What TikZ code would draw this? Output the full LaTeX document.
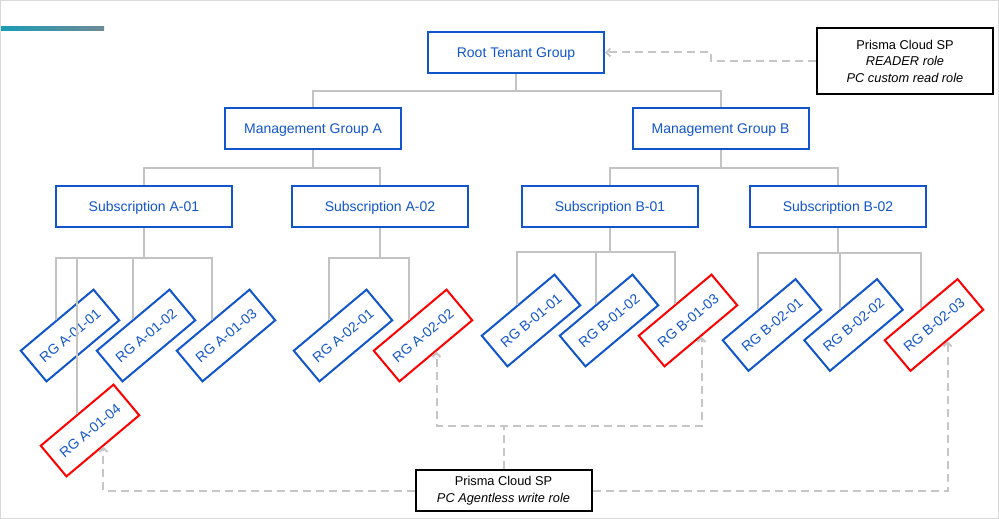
\documentclass[tikz,border=0pt]{standalone}
\usepackage{fontspec}
\setmainfont{Liberation Sans}
\usepackage{xcolor}
\usetikzlibrary{arrows.meta,intersections}
\definecolor{azblue}{HTML}{1155CC}
\definecolor{azred}{HTML}{FF0000}
\definecolor{linegray}{HTML}{C3C3C3}
\definecolor{dashgray}{HTML}{C6C6C6}
\definecolor{barteal}{HTML}{1A9CB4}
\definecolor{barslate}{HTML}{6F8A96}

\begin{document}
\begin{tikzpicture}[x=1pt,y=-1pt,>={Straight Barb[length=4pt,width=8pt]},
  grp/.style={draw=azblue,line width=2pt,text=azblue,minimum width=176pt,minimum height=41pt,inner sep=0pt,text depth=0pt,font=\fontsize{14}{16}\selectfont},
  rg/.style={draw=#1,line width=2pt,text=azblue,minimum width=95pt,minimum height=40pt,inner sep=0pt,text depth=0pt,rotate=40,font=\fontsize{14}{16}\selectfont},
  rg/.default=azblue,
  sp/.style={draw=black,line width=2pt,align=center,minimum width=176pt,inner sep=0pt,font=\fontsize{12.8}{16.5}\selectfont},
  tree/.style={draw=linegray,line width=2pt},
  link/.style={draw=dashgray,line width=2pt,dash pattern=on 8pt off 5pt}]
\useasboundingbox (0,0) rectangle (999,519);
\draw[gray!30] (0.5,0.5) rectangle (998.5,518.5);
\shade[left color=barteal,right color=barslate] (1,27) rectangle (104,31);

% tenant and management groups
\node[grp] (root) at (516,52.5) {Root Tenant Group};
\node[grp] (mgA) at (313,128.5) {Management Group A};
\node[grp] (mgB) at (720.5,128.5) {Management Group B};

% subscriptions
\node[grp] (subA1) at (144,206.5) {Subscription A-01};
\node[grp] (subA2) at (380,206.5) {Subscription A-02};
\node[grp] (subB1) at (610,206.5) {Subscription B-01};
\node[grp] (subB2) at (838,206.5) {Subscription B-02};

% resource groups
\node[rg] (a0101) at (70,335.5) {RG A-01-01};
\node[rg] (a0102) at (146,335.5) {RG A-01-02};
\node[rg] (a0103) at (226,335.5) {RG A-01-03};
\node[rg=azred] (a0104) at (90,430.5) {RG A-01-04};
\node[rg] (a0201) at (343,335.5) {RG A-02-01};
\node[rg=azred] (a0202) at (423,335.5) {RG A-02-02};
\node[rg] (b0101) at (531,320.5) {RG B-01-01};
\node[rg] (b0102) at (609,320.5) {RG B-01-02};
\node[rg=azred] (b0103) at (688,320.5) {RG B-01-03};
\node[rg] (b0201) at (772,325) {RG B-02-01};
\node[rg] (b0202) at (853.5,325) {RG B-02-02};
\node[rg=azred] (b0203) at (934,325) {RG B-02-03};

% service principals
\node[sp,minimum height=66pt] (spTop) at (905,61) {Prisma Cloud SP\\\textit{READER role}\\\textit{PC custom read role}};
\node[sp,minimum height=41pt] (spBot) at (503.5,490.5) {Prisma Cloud SP\\\textit{PC Agentless write role}};

% hierarchy
\draw[tree] (root.south) -- ++(0,17) -| (mgA.north);
\draw[tree] (root.south) -- ++(0,17) -| (mgB.north);
\draw[tree] (mgA.south) -- ++(0,18) -| (subA1.north);
\draw[tree] (mgA.south) -- ++(0,18) -| (subA2.north);
\draw[tree] (mgB.south) -- ++(0,18) -| (subB1.north);
\draw[tree] (mgB.south) -- ++(0,18) -| (subB2.north);
\foreach \sub/\drop/\sx/\rg in {subA1/30/56/a0101, subA1/30/77/a0104, subA1/30/133/a0102,
    subA1/30/212/a0103, subA2/30/329/a0201, subA2/30/409/a0202, subB1/24/517/b0101,
    subB1/24/596/b0102, subB1/24/675/b0103, subB2/25/758/b0201, subB2/25/840/b0202,
    subB2/25/921/b0203}{
  \path[name path=edge] (\rg.north west) -- (\rg.north east);
  \path[name path=drop] (\sx,235) -- (\sx,519);
  \draw[tree,name intersections={of=edge and drop}] (\sub.south) -- ++(0,\drop) -| (intersection-1);
}

% role assignments
\draw[link,->] (spTop.west) -- ++(-105,0) |- (root.east);
\draw[link,->] (spBot.west) -| (a0104.south);
\draw[link,->] (spBot.east) -| (b0203.south);
\draw[link,->] (spBot.north) -- ++(0,-43) -| (a0202.south);
\draw[link,->] (spBot.north) -- ++(0,-43) -| (b0103.south);
\end{tikzpicture}
\end{document}
